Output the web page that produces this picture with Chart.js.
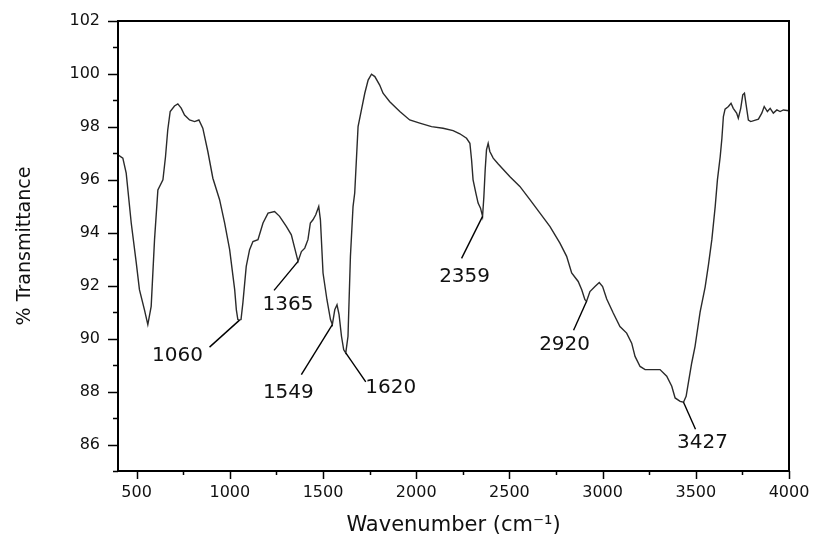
<!DOCTYPE html>
<html>
<head>
<meta charset="utf-8">
<script src="https://cdn.jsdelivr.net/npm/chart.js@4/dist/chart.umd.min.js"></script>
<style>
  html, body { margin: 0; padding: 0; background: #fff; }
  #wrap { width: 815px; height: 538px; }
</style>
</head>
<body>
<div id="wrap"><canvas id="ftirChart" width="815" height="538"></canvas></div>
<script>
// Spectrum
const wavenumber = [
  400, 426, 444, 471, 498, 515, 542, 560, 578, 596, 614, 641, 655, 667, 680, 703, 721, 739, 757, 784,
  811, 834, 855, 882, 909, 945, 972, 999, 1026, 1035, 1043, 1052, 1060, 1070, 1088, 1106, 1124, 1151, 1178, 1205,
  1240, 1267, 1303, 1330, 1348, 1366, 1384, 1402, 1419, 1432, 1446, 1461, 1477, 1486, 1500, 1521, 1540, 1550, 1563, 1575,
  1586, 1599, 1611, 1622, 1634, 1647, 1661, 1670, 1688, 1706, 1724, 1742, 1760, 1778, 1804, 1822, 1858, 1912, 1965, 2019,
  2082, 2144, 2198, 2234, 2270, 2288, 2297, 2305, 2320, 2332, 2345, 2356, 2363, 2370, 2377, 2386, 2395, 2413, 2440, 2503,
  2556, 2610, 2664, 2717, 2771, 2807, 2834, 2869, 2888, 2905, 2914, 2932, 2959, 2982, 3000, 3022, 3057, 3093, 3129, 3156,
  3174, 3201, 3228, 3308, 3344, 3371, 3389, 3416, 3434, 3448, 3460, 3478, 3496, 3523, 3550, 3568, 3586, 3604, 3616, 3631,
  3640, 3648, 3657, 3675, 3689, 3701, 3719, 3728, 3741, 3752, 3761, 3770, 3782, 3795, 3836, 3854, 3867, 3884, 3899, 3916,
  3935, 3952, 3970, 4000
];
const transmittance = [
  96.94, 96.82, 96.25, 94.37, 92.86, 91.85, 91.09, 90.53, 91.22, 93.74, 95.62, 96.0, 96.88, 97.89, 98.58, 98.79, 98.87, 98.71, 98.45, 98.26,
  98.2, 98.26, 97.95, 97.07, 96.06, 95.25, 94.37, 93.36, 91.85, 91.09, 90.72, 90.7, 90.72, 91.35, 92.73, 93.36, 93.67, 93.74, 94.37, 94.74,
  94.8, 94.62, 94.24, 93.92, 93.42, 92.92, 93.29, 93.42, 93.74, 94.37, 94.49, 94.68, 94.99, 94.49, 92.48, 91.47, 90.72, 90.53, 91.09, 91.28,
  90.91, 90.09, 89.58, 89.46, 90.09, 93.11, 94.99, 95.5, 98.01, 98.64, 99.27, 99.77, 99.99, 99.9, 99.58, 99.27, 98.95, 98.58, 98.26, 98.14,
  98.01, 97.95, 97.86, 97.74, 97.57, 97.38, 96.75, 96.0, 95.5, 95.12, 94.93, 94.62, 95.37, 96.38, 97.13, 97.38, 97.07, 96.82, 96.6, 96.12,
  95.75, 95.25, 94.74, 94.24, 93.61, 93.11, 92.48, 92.16, 91.85, 91.47, 91.41, 91.78, 91.97, 92.12, 91.97, 91.5, 90.97, 90.46, 90.21, 89.83,
  89.33, 88.95, 88.83, 88.83, 88.58, 88.2, 87.76, 87.63, 87.6, 87.82, 88.33, 89.08, 89.71, 91.0, 91.95, 92.8, 93.74, 94.99, 96.0, 96.88,
  97.57, 98.39, 98.67, 98.77, 98.89, 98.7, 98.52, 98.33, 98.7, 99.21, 99.27, 98.83, 98.26, 98.2, 98.29, 98.52, 98.77, 98.58, 98.7, 98.52,
  98.64, 98.58, 98.64, 98.61
];

// Marked bands
const peakLabels = ["1060", "1365", "1549", "1620", "2359", "2920", "3427"];
const peakWavenumber = [1052, 1366, 1550, 1622, 2356, 2914, 3434];
const peakTransmittance = [90.7, 92.92, 90.53, 89.46, 94.62, 91.41, 87.6];

// Tick labels
const xTickLabels = [500, 1000, 1500, 2000, 2500, 3000, 3500, 4000];
const yTickLabels = [86, 88, 90, 92, 94, 96, 98, 100, 102];

// leader line end / text centre, in px relative to the marked point
const labelLayout = [
  { lx: -30, ly: 27, tx: -62, ty: 36 },
  { lx: -24, ly: 29, tx: -10, ty: 43 },
  { lx: -31, ly: 50, tx: -44, ty: 68 },
  { lx: 20, ly: 29, tx: 45, ty: 35 },
  { lx: -21, ly: 42, tx: -18, ty: 60 },
  { lx: -13, ly: 29, tx: -22, ty: 43 },
  { lx: 12, ly: 27, tx: 19, ty: 41 }
];

const FONT = "'DejaVu Sans', Arial, sans-serif";

// minor ticks sit halfway between labelled ones
function withMinors(majors, lo, hi) {
  const step = majors[1] - majors[0];
  const out = [];
  for (let v = majors[0] - step / 2; v <= majors[majors.length - 1] + 1e-9; v += step / 2) {
    if (v >= lo && v <= hi) out.push(v);
  }
  return out;
}

const points = wavenumber.map((w, i) => ({ x: w, y: transmittance[i] }));

// frame, tick marks and peak annotations
const framePlugin = {
  id: "frame",
  afterDraw(chart) {
    const { ctx, chartArea: a, scales } = chart;
    const xs = scales.x, ys = scales.y;
    ctx.save();
    ctx.strokeStyle = "#000";
    ctx.lineWidth = 2;
    ctx.strokeRect(a.left, a.top, a.right - a.left, a.bottom - a.top);

    ctx.lineWidth = 1.5;
    ctx.beginPath();
    xs.ticks.forEach(t => {
      const px = Math.round(xs.getPixelForValue(t.value)) + 0.5;
      const len = xTickLabels.includes(t.value) ? 8 : 4;
      ctx.moveTo(px, a.bottom);
      ctx.lineTo(px, a.bottom + len);
    });
    ys.ticks.forEach(t => {
      const py = Math.round(ys.getPixelForValue(t.value)) + 0.5;
      const len = yTickLabels.includes(t.value) ? 10 : 5;
      ctx.moveTo(a.left, py);
      ctx.lineTo(a.left - len, py);
    });
    ctx.stroke();

    ctx.font = "20px " + FONT;
    ctx.fillStyle = "#111";
    ctx.textAlign = "center";
    ctx.textBaseline = "middle";
    ctx.lineWidth = 1.4;
    peakLabels.forEach((lab, i) => {
      const px = xs.getPixelForValue(peakWavenumber[i]);
      const py = ys.getPixelForValue(peakTransmittance[i]);
      const o = labelLayout[i];
      ctx.beginPath();
      ctx.moveTo(px, py);
      ctx.lineTo(px + o.lx, py + o.ly);
      ctx.stroke();
      ctx.fillText(lab, px + o.tx, py + o.ty);
    });
    ctx.restore();
  }
};

new Chart(document.getElementById("ftirChart"), {
  type: "line",
  data: {
    datasets: [{
      data: points,
      borderColor: "#2a2a2a",
      borderWidth: 1.4,
      pointRadius: 0,
      tension: 0,
      fill: false
    }]
  },
  options: {
    responsive: false,
    animation: false,
    events: [],
    layout: { padding: { top: 21, right: 26, left: 0, bottom: 0 } },
    plugins: { legend: { display: false }, tooltip: { enabled: false } },
    scales: {
      x: {
        type: "linear",
        min: 400,
        max: 4000,
        afterBuildTicks: s => { s.ticks = withMinors(xTickLabels, 400, 4000).map(v => ({ value: v })); },
        afterFit: s => { s.height = 67; s.paddingLeft = 0; s.paddingRight = 0; },
        grid: { display: false, drawTicks: false },
        border: { display: false },
        ticks: {
          autoSkip: false,
          maxRotation: 0,
          padding: 12,
          color: "#111",
          font: { family: FONT, size: 16 },
          callback: v => (xTickLabels.includes(v) ? String(v) : "")
        },
        title: {
          display: true,
          text: "Wavenumber (cm\u207B\u00B9)",
          color: "#111",
          font: { family: FONT, size: 21 },
          padding: { top: 1, bottom: 0 }
        }
      },
      y: {
        type: "linear",
        min: 85,
        max: 102,
        afterBuildTicks: s => { s.ticks = withMinors(yTickLabels, 85, 102).map(v => ({ value: v })); },
        afterFit: s => { s.width = 118; s.paddingTop = 0; s.paddingBottom = 0; },
        grid: { display: false, drawTicks: false },
        border: { display: false },
        ticks: {
          autoSkip: false,
          padding: 18,
          color: "#111",
          font: { family: FONT, size: 16 },
          callback: v => (yTickLabels.includes(v) ? String(v) : "")
        },
        title: {
          display: true,
          text: "% Transmittance",
          color: "#111",
          font: { family: FONT, size: 19 },
          padding: { top: 14, bottom: 0 }
        }
      }
    }
  },
  plugins: [framePlugin]
});
</script>
</body>
</html>
